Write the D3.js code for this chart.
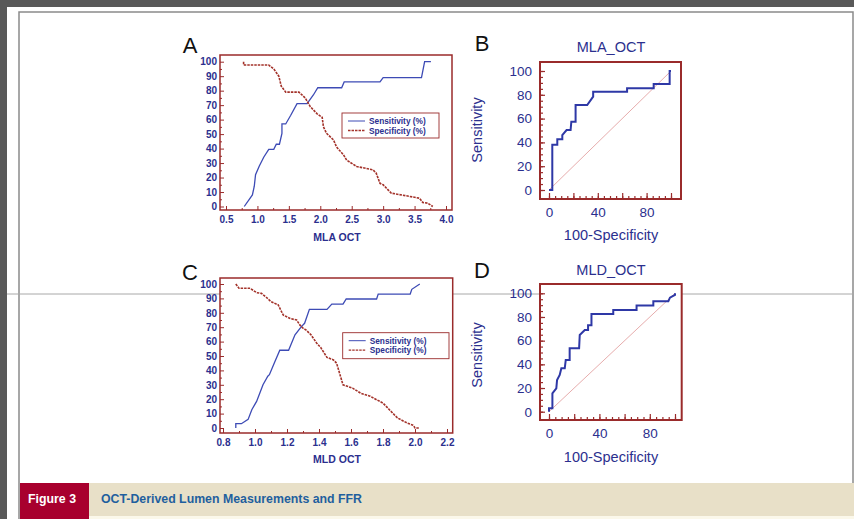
<!DOCTYPE html>
<html>
<head>
<meta charset="utf-8">
<script src="https://cdn.jsdelivr.net/npm/d3@7"></script>
<style>
  body { margin: 0; background: #595959; }
  svg { display: block; }
</style>
</head>
<body>
<svg id="fig" width="854" height="519"></svg>
<script>
// Panel A: MLA OCT cut-off vs sensitivity / specificity (%)
const mlaSens = [[0.79,0],[0.92,8],[0.95,14],[0.97,22],[1.03,28],[1.10,34],[1.18,39.5],[1.26,39.5],[1.30,43],[1.35,43],[1.39,50.5],[1.39,57],[1.45,57],[1.53,63],[1.63,71],[1.79,71],[1.89,77],[1.96,82],[2.34,82],[2.38,86],[2.95,86],[3.00,89],[3.61,89],[3.66,100],[3.76,100]];
const mlaSpec = [[0.78,100],[0.78,97.7],[1.18,97.7],[1.26,95],[1.34,90],[1.38,83],[1.45,79],[1.66,79],[1.76,75],[1.84,69],[1.95,64],[2.03,61.6],[2.05,55],[2.10,50.5],[2.21,46],[2.26,41],[2.37,35.6],[2.42,32],[2.58,27.6],[2.84,25.3],[2.89,23],[2.95,16],[3.00,15],[3.13,9.2],[3.42,7],[3.58,5.7],[3.63,2.8],[3.71,2.3],[3.79,0]];

// Panel C: MLD OCT cut-off vs sensitivity / specificity (%)
const mldSens = [[0.88,0],[0.88,3],[0.915,3],[0.957,6],[0.98,12.7],[1.01,18.5],[1.05,30],[1.08,36],[1.09,37],[1.12,45],[1.155,54],[1.21,54],[1.25,64.7],[1.29,70.4],[1.31,72.7],[1.34,82.4],[1.45,82.4],[1.48,86],[1.55,86],[1.57,89.6],[1.76,89.6],[1.77,93],[1.97,93],[1.98,96.3],[2.03,100]];
const mldSpec = [[0.88,100],[0.90,97],[0.97,97],[1.01,94],[1.04,93.5],[1.07,90.8],[1.10,87.8],[1.145,85.5],[1.176,78.5],[1.22,76],[1.26,75],[1.28,71.6],[1.30,69.3],[1.32,68],[1.35,64.7],[1.385,59],[1.41,56],[1.45,49],[1.49,47.3],[1.51,45],[1.55,30],[1.61,27.7],[1.66,24.2],[1.72,22],[1.80,17.3],[1.84,12.7],[1.89,7],[1.95,3.5],[1.99,1.8],[2.00,0],[2.03,0]];

// Panel B / D: ROC curves (100-specificity, sensitivity)
const mlaRoc = [[0,0],[2.7,0],[2.7,38],[6.8,38],[6.8,42.6],[10.9,42.6],[10.9,46.2],[14.4,50.4],[17.7,50.4],[18.3,57.4],[21.8,57.4],[21.8,71.4],[31.3,71.4],[36.2,78.4],[36.2,82.6],[64,82.6],[64,85.4],[85.8,85.4],[85.8,89],[98.9,89],[98.9,100],[100,100]];
const mldRoc = [[0,0],[0,3],[2.7,3],[2.7,15.5],[5.8,19.7],[6.4,26.8],[8.5,31],[9.8,36.6],[12.5,36.6],[13.3,43.7],[16.4,43.7],[16.4,53.5],[23.9,53.5],[24.4,64.8],[28.4,69],[31,69],[31,73],[33.7,73],[33.7,82.5],[51,82.5],[51,86],[69.5,86],[69.5,89.6],[82.8,89.6],[82.8,93.2],[94.7,93.2],[96,96.3],[100,98.6],[100,100]];

const legendLabels = ["Sensitivity (%)", "Specificity (%)"];

const navy = "#2b2f8e", boxRed = "#9a2b2b", blue = "#3d4bb5", red = "#a3322a";
const font = "Arial, 'Liberation Sans', sans-serif";

const svg = d3.select("#fig");

// page frame
svg.append("rect").attr("x", 7).attr("y", 7).attr("width", 847).attr("height", 512).attr("fill", "#fff");
svg.append("rect").attr("x", 19).attr("y", 12).attr("width", 834).attr("height", 520)
  .attr("fill", "none").attr("stroke", "#8a8a8a").attr("stroke-width", 1.5);
svg.append("line").attr("x1", 7).attr("x2", 854).attr("y1", 294).attr("y2", 294)
  .attr("stroke", "#a8a8a8").attr("stroke-width", 1);

function panelLetter(txt, x, y) {
  svg.append("text").attr("x", x).attr("y", y).attr("text-anchor", "middle")
    .attr("font-family", font).attr("font-size", 22).attr("fill", "#111").text(txt);
}

function drawCutoffPanel(cfg) {
  const g = svg.append("g");
  const x = d3.scaleLinear().domain(cfg.xDomain).range(cfg.xRange);
  const y = d3.scaleLinear().domain([0, 100]).range(cfg.yRange);
  const b = cfg.box;

  g.append("rect").attr("x", b[0]).attr("y", b[1]).attr("width", b[2] - b[0]).attr("height", b[3] - b[1])
    .attr("fill", "#fff").attr("stroke", boxRed).attr("stroke-width", 1.5);

  g.append("g").attr("transform", `translate(${b[0]},0)`)
    .call(d3.axisLeft(y).tickValues(d3.range(0, 101, 10)).tickSize(-4).tickPadding(3));
  g.append("g").attr("transform", `translate(${b[0]},0)`)
    .call(d3.axisLeft(y).tickValues(d3.range(5, 100, 10)).tickSize(-2).tickFormat(""));
  g.append("g").attr("transform", `translate(0,${b[3]})`)
    .call(d3.axisBottom(x).tickValues(cfg.xTicks).tickFormat(d3.format(".1f")).tickSize(-4).tickPadding(6));
  g.append("g").attr("transform", `translate(0,${b[3]})`)
    .call(d3.axisBottom(x).tickValues(cfg.xMinor).tickSize(-2).tickFormat(""));

  g.selectAll(".domain").remove();
  g.selectAll(".tick line").attr("stroke", boxRed);
  g.selectAll(".tick text").attr("fill", navy).attr("font-size", 10).attr("font-weight", "bold")
    .attr("font-family", font);

  const line = d3.line().x(d => x(d[0])).y(d => y(d[1]));
  g.append("path").datum(cfg.sens).attr("d", line).attr("fill", "none")
    .attr("stroke", blue).attr("stroke-width", 1.3);
  g.append("path").datum(cfg.spec).attr("d", line).attr("fill", "none")
    .attr("stroke", red).attr("stroke-width", 1.6).attr("stroke-dasharray", "2.5,1");

  g.append("text").attr("x", cfg.titleX).attr("y", cfg.titleY).attr("text-anchor", "middle")
    .attr("fill", navy).attr("font-size", 10.5).attr("font-weight", "bold")
    .attr("font-family", font).text(cfg.title);

  // legend
  const lg = cfg.legend;
  g.append("rect").attr("x", lg[0]).attr("y", lg[1]).attr("width", lg[2]).attr("height", lg[3])
    .attr("fill", "#fff").attr("stroke", boxRed).attr("stroke-width", 0.9);
  legendLabels.forEach((t, i) => {
    const yy = lg[1] + 8 + i * 9.5;
    g.append("line").attr("x1", lg[0] + 6).attr("x2", lg[0] + 23).attr("y1", yy).attr("y2", yy)
      .attr("stroke", i ? red : blue).attr("stroke-width", i ? 1.3 : 1)
      .attr("stroke-dasharray", i ? "2.5,1" : null);
    g.append("text").attr("x", lg[0] + 27).attr("y", yy + 3).attr("fill", navy)
      .attr("font-size", 8.3).attr("font-weight", "bold")
      .attr("font-family", font).text(t);
  });
}

function drawRocPanel(cfg) {
  const g = svg.append("g");
  const x = d3.scaleLinear().domain([0, 100]).range(cfg.xRange);
  const y = d3.scaleLinear().domain([0, 100]).range(cfg.yRange);
  const b = cfg.box;

  g.append("rect").attr("x", b[0]).attr("y", b[1]).attr("width", b[2] - b[0]).attr("height", b[3] - b[1])
    .attr("fill", "#fff").attr("stroke", boxRed).attr("stroke-width", 2);

  g.append("g").attr("transform", `translate(${b[0]},0)`)
    .call(d3.axisLeft(y).tickValues(d3.range(0, 101, 20)).tickSize(-5).tickPadding(8));
  g.append("g").attr("transform", `translate(${b[0]},0)`)
    .call(d3.axisLeft(y).tickValues(d3.range(0, 101, 5)).tickSize(-3).tickFormat(""));
  g.append("g").attr("transform", `translate(0,${b[3]})`)
    .call(d3.axisBottom(x).tickValues([0, 40, 80]).tickSize(0).tickPadding(8));
  g.append("g").attr("transform", `translate(0,${b[3]})`)
    .call(d3.axisBottom(x).tickValues(d3.range(0, 101, 20)).tickSize(-6).tickFormat(""));
  g.append("g").attr("transform", `translate(0,${b[3]})`)
    .call(d3.axisBottom(x).tickValues(d3.range(0, 101, 5)).tickSize(-3).tickFormat(""));

  g.selectAll(".domain").remove();
  g.selectAll(".tick line").attr("stroke", boxRed).attr("stroke-width", 1.2);
  g.selectAll(".tick text").attr("fill", navy).attr("font-size", 13.5).attr("font-family", font);

  g.append("line").attr("x1", x(0)).attr("y1", y(0)).attr("x2", x(100)).attr("y2", y(100))
    .attr("stroke", "#e3a3a3").attr("stroke-width", 0.9);

  const line = d3.line().x(d => x(d[0])).y(d => y(d[1]));
  g.append("path").datum(cfg.roc).attr("d", line).attr("fill", "none")
    .attr("stroke", "#2e38a6").attr("stroke-width", 2);

  g.append("text").attr("x", cfg.titleX).attr("y", cfg.titleY).attr("text-anchor", "middle")
    .attr("fill", navy).attr("font-size", 14.5).attr("font-family", font).text(cfg.title);
  g.append("text").attr("x", cfg.titleX).attr("y", cfg.xLabelY).attr("text-anchor", "middle")
    .attr("fill", navy).attr("font-size", 14.5).attr("font-family", font).text("100-Specificity");
  g.append("text").attr("transform", `translate(${cfg.yLabelX},${cfg.yLabelY}) rotate(-90)`)
    .attr("text-anchor", "middle").attr("fill", navy).attr("font-size", 14.5)
    .attr("font-family", font).text("Sensitivity");
}

panelLetter("A", 190, 53);
drawCutoffPanel({
  box: [220, 55, 452, 210], xDomain: [0.5, 4.0], xRange: [226, 446], yRange: [206.5, 61.7],
  xTicks: d3.range(0.5, 4.01, 0.5), xMinor: d3.range(0.75, 4.0, 0.5),
  sens: mlaSens, spec: mlaSpec, title: "MLA OCT", titleX: 337, titleY: 241,
  legend: [342, 113, 97, 25]
});

panelLetter("B", 482, 51);
drawRocPanel({
  box: [540, 62, 681, 199], xRange: [549, 671], yRange: [190, 71], roc: mlaRoc,
  title: "MLA_OCT", titleX: 611, titleY: 52, xLabelY: 240, yLabelX: 482, yLabelY: 130
});

panelLetter("C", 190, 280);
drawCutoffPanel({
  box: [220, 278, 452.7, 433], xDomain: [0.8, 2.2], xRange: [223, 447], yRange: [428, 284],
  xTicks: d3.range(0.8, 2.21, 0.2), xMinor: d3.range(0.9, 2.2, 0.2),
  sens: mldSens, spec: mldSpec, title: "MLD OCT", titleX: 337, titleY: 463,
  legend: [342.7, 332.7, 106.3, 26]
});

panelLetter("D", 482, 278);
drawRocPanel({
  box: [540, 284, 681.7, 420], xRange: [549, 675], yRange: [411.7, 293.3], roc: mldRoc,
  title: "MLD_OCT", titleX: 611, titleY: 275, xLabelY: 462, yLabelX: 482, yLabelY: 355
});

// caption bar
svg.append("rect").attr("x", 20).attr("y", 483).attr("width", 834).attr("height", 33).attr("fill", "#e8e0c8");
svg.append("rect").attr("x", 20).attr("y", 516).attr("width", 834).attr("height", 3).attr("fill", "#fbf8ea");
svg.append("rect").attr("x", 20).attr("y", 483).attr("width", 69).attr("height", 36).attr("fill", "#a8002e");
svg.append("text").attr("x", 28).attr("y", 503).attr("fill", "#fff")
  .attr("font-size", 12).attr("font-weight", "bold").attr("font-family", font)
  .attr("textLength", 48).attr("lengthAdjust", "spacingAndGlyphs").text("Figure 3");
svg.append("text").attr("x", 101).attr("y", 503).attr("fill", "#1f5f9e")
  .attr("font-size", 12).attr("font-weight", "bold").attr("font-family", font)
  .attr("textLength", 261).attr("lengthAdjust", "spacingAndGlyphs")
  .text("OCT-Derived Lumen Measurements and FFR");
</script>
</body>
</html>
